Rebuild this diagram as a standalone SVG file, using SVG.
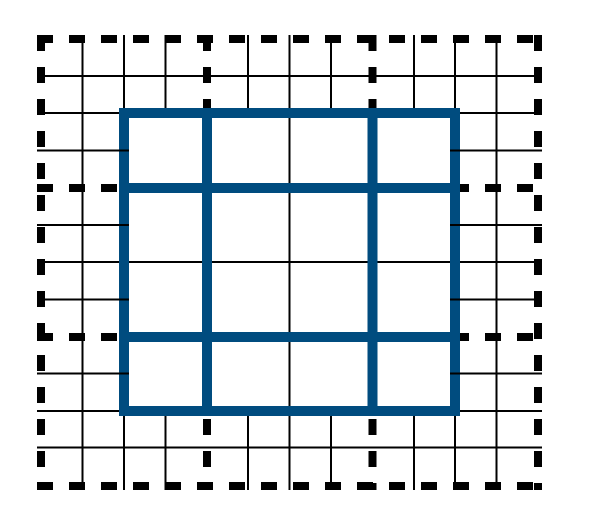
<svg xmlns="http://www.w3.org/2000/svg" width="594" height="508" viewBox="0 0 594 508">
  <style>
    .thin { stroke: #000; stroke-width: 2; fill: none; }
    .dash { stroke: #000; stroke-width: 8; stroke-dasharray: 16 16; fill: none; }
    .blue { stroke: #004C7F; stroke-width: 10; fill: none; stroke-linejoin: miter; }
  </style>
  <rect width="594" height="508" fill="#fff"/>
  <g id="thin-grid" class="thin">
    <!-- vertical thin lines -->
    <line x1="82.5" y1="35" x2="82.5" y2="490"/>
    <line x1="496.5" y1="35" x2="496.5" y2="490"/>
    <line x1="289.5" y1="35" x2="289.5" y2="490"/>
    <line x1="124" y1="35" x2="124" y2="113"/>
    <line x1="124" y1="411" x2="124" y2="490"/>
    <line x1="165.5" y1="35" x2="165.5" y2="113"/>
    <line x1="165.5" y1="411" x2="165.5" y2="490"/>
    <line x1="248" y1="35" x2="248" y2="113"/>
    <line x1="248" y1="411" x2="248" y2="490"/>
    <line x1="331" y1="35" x2="331" y2="113"/>
    <line x1="331" y1="411" x2="331" y2="490"/>
    <line x1="414" y1="35" x2="414" y2="113"/>
    <line x1="414" y1="411" x2="414" y2="490"/>
    <line x1="455" y1="35" x2="455" y2="113"/>
    <line x1="455" y1="411" x2="455" y2="490"/>
    <!-- horizontal thin lines -->
    <line x1="37" y1="76" x2="542" y2="76"/>
    <line x1="37" y1="113" x2="542" y2="113"/>
    <line x1="37" y1="262" x2="542" y2="262"/>
    <line x1="37" y1="411" x2="542" y2="411"/>
    <line x1="37" y1="447.5" x2="542" y2="447.5"/>
  </g>
  <g id="dashed-grid" class="dash">
    <line x1="37" y1="39" x2="542" y2="39"/>
    <line x1="37" y1="188" x2="542" y2="188"/>
    <line x1="37" y1="337" x2="542" y2="337"/>
    <line x1="37" y1="486" x2="542" y2="486"/>
    <line x1="41" y1="35" x2="41" y2="490"/>
    <line x1="207" y1="35" x2="207" y2="490"/>
    <line x1="372.5" y1="35" x2="372.5" y2="490"/>
    <line x1="538" y1="35" x2="538" y2="490"/>
  </g>
  <g id="blue-box" class="blue">
    <rect x="124" y="113" width="331" height="298"/>
    <line x1="124" y1="188" x2="455" y2="188"/>
    <line x1="124" y1="337" x2="455" y2="337"/>
    <line x1="207" y1="113" x2="207" y2="411"/>
    <line x1="372.5" y1="113" x2="372.5" y2="411"/>
  </g>
  <g id="thin-stubs" class="thin">
    <line x1="37" y1="150.5" x2="129" y2="150.5"/>
    <line x1="450" y1="150.5" x2="542" y2="150.5"/>
    <line x1="37" y1="225" x2="129" y2="225"/>
    <line x1="450" y1="225" x2="542" y2="225"/>
    <line x1="37" y1="299.5" x2="129" y2="299.5"/>
    <line x1="450" y1="299.5" x2="542" y2="299.5"/>
    <line x1="37" y1="373.5" x2="129" y2="373.5"/>
    <line x1="450" y1="373.5" x2="542" y2="373.5"/>
  </g>
</svg>
